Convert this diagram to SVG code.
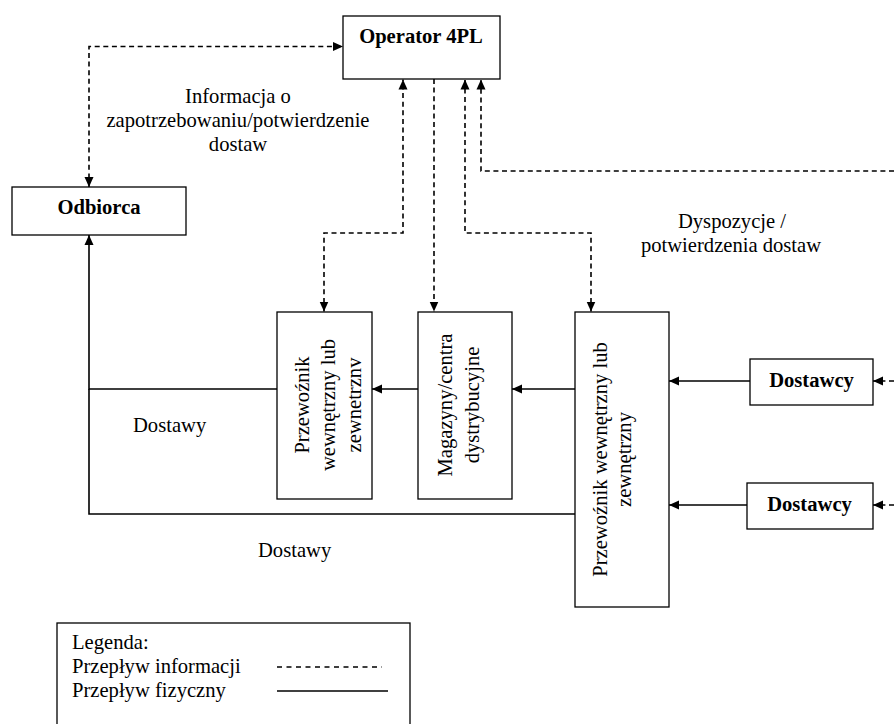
<svg xmlns="http://www.w3.org/2000/svg" width="894" height="724" viewBox="0 0 894 724">
<style>
.box{fill:#fff;stroke:#000;stroke-width:1.3}
.t{font-family:"Liberation Serif","Times New Roman",serif;font-size:20.6px;fill:#000}
.b{font-weight:bold}
.m{text-anchor:middle}
.dash{fill:none;stroke:#000;stroke-width:1.6;stroke-dasharray:5,3.6}
.solid{fill:none;stroke:#000;stroke-width:1.6}
</style>
<defs>
<marker id="ah" markerUnits="userSpaceOnUse" markerWidth="10" markerHeight="10" viewBox="0 0 10 10" refX="10" refY="5" orient="auto-start-reverse">
<path d="M0,0.5 L10,5 L0,9.5 Z" fill="#000"/>
</marker>
</defs>
<rect width="894" height="724" fill="#fff"/>
<g id="connectors">
<path class="dash" d="M89,187 V46.5 H343" marker-start="url(#ah)" marker-end="url(#ah)"/>
<path class="dash" d="M324,311.5 V233 H403 V79.5" marker-start="url(#ah)" marker-end="url(#ah)"/>
<path class="dash" d="M434,79 V311.5" marker-end="url(#ah)"/>
<path class="dash" d="M591,311.5 V233 H465 V79.5" marker-start="url(#ah)" marker-end="url(#ah)"/>
<path class="dash" d="M894,171 H481 V79.5" marker-end="url(#ah)"/>
<path class="dash" d="M894,381 H873" marker-end="url(#ah)"/>
<path class="dash" d="M894,505 H873" marker-end="url(#ah)"/>
<path class="solid" d="M750,381 H669" marker-end="url(#ah)"/>
<path class="solid" d="M747,505 H669" marker-end="url(#ah)"/>
<path class="solid" d="M575,389 H512" marker-end="url(#ah)"/>
<path class="solid" d="M418,389 H372" marker-end="url(#ah)"/>
<path class="solid" d="M277,389 H89 V235" marker-end="url(#ah)"/>
<path class="solid" d="M575,514 H89 V389"/>
</g>
<g id="operator">
<rect class="box" x="343" y="16" width="157" height="63"/>
<text class="t b m" x="421" y="43">Operator 4PL</text>
</g>
<g id="odbiorca">
<rect class="box" x="12" y="187" width="174" height="48"/>
<text class="t b m" x="99" y="214">Odbiorca</text>
</g>
<g id="przewoznik1">
<rect class="box" x="277" y="312" width="95" height="187"/>
<text class="t m" transform="translate(309,405) rotate(-90)">Przewoźnik</text>
<text class="t m" transform="translate(335,405) rotate(-90)">wewnętrzny lub</text>
<text class="t m" transform="translate(361,405) rotate(-90)">zewnetrznv</text>
</g>
<g id="magazyny">
<rect class="box" x="418" y="312" width="94" height="187"/>
<text class="t m" transform="translate(452,405) rotate(-90)">Magazyny/centra</text>
<text class="t m" transform="translate(479,405) rotate(-90)">dystrybucyjne</text>
</g>
<g id="przewoznik2">
<rect class="box" x="575" y="312" width="94" height="295"/>
<text class="t m" transform="translate(607,459.5) rotate(-90)">Przewoźnik wewnętrzny lub</text>
<text class="t m" transform="translate(631,459.5) rotate(-90)">zewnętrzny</text>
</g>
<g id="dostawcy1">
<rect class="box" x="750" y="359" width="123" height="46"/>
<text class="t b m" x="811.5" y="387">Dostawcy</text>
</g>
<g id="dostawcy2">
<rect class="box" x="747" y="483" width="126" height="46"/>
<text class="t b m" x="809.5" y="511">Dostawcy</text>
</g>
<g id="labels">
<text class="t m" x="238" y="103">Informacja o</text>
<text class="t m" x="238" y="127">zapotrzebowaniu/potwierdzenie</text>
<text class="t m" x="238" y="151">dostaw</text>
<text class="t m" x="732" y="228">Dyspozycje /</text>
<text class="t m" x="731" y="252">potwierdzenia dostaw</text>
<text class="t" x="133" y="432">Dostawy</text>
<text class="t" x="258" y="557">Dostawy</text>
</g>
<g id="legend">
<rect class="box" x="57" y="623" width="353" height="110"/>
<text class="t" x="72" y="649">Legenda:</text>
<text class="t" x="72" y="673">Przepływ informacji</text>
<text class="t" x="72" y="697">Przepływ fizyczny</text>
<line x1="277" y1="667" x2="382" y2="667" stroke="#000" stroke-width="1.3" stroke-dasharray="5,4.5"/>
<line x1="277" y1="691" x2="388" y2="691" stroke="#000" stroke-width="1.3"/>
</g>
</svg>
